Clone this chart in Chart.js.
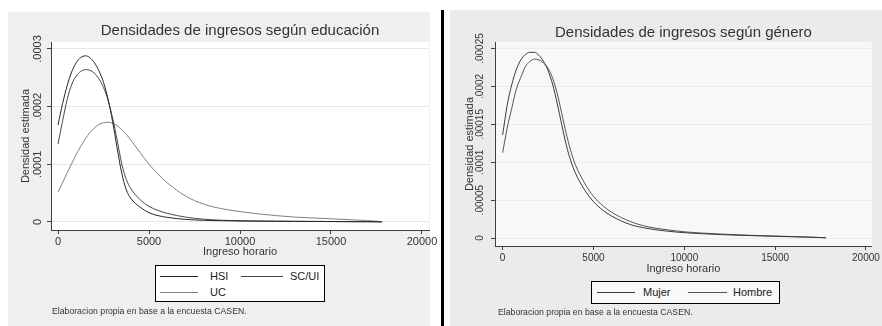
<!DOCTYPE html>
<html>
<head>
<meta charset="utf-8">
<script src="https://cdn.jsdelivr.net/npm/chart.js@4.4.1/dist/chart.umd.min.js"></script>
<style>
  body { margin: 0; width: 882px; height: 326px; background: #fff; position: relative; overflow: hidden;
         font-family: "Liberation Sans", Arial, sans-serif; }
  canvas { position: absolute; top: 0; }
  #eduChart { left: 0; }
  #genChart { left: 446px; }
  .divider { position: absolute; left: 441px; top: 10px; width: 3px; height: 316px; background: #000; }
  .legend { position: absolute; border: 1px solid #000; box-sizing: border-box; }
  .key { position: absolute; height: 1px; }
  .lab { position: absolute; font-size: 11px; color: #222; line-height: 13px; white-space: nowrap; }
  .note { position: absolute; font-size: 8.7px; color: #333; line-height: 10px; white-space: nowrap; }
</style>
</head>
<body>
<canvas id="eduChart" width="441" height="326"></canvas>
<div class="divider"></div>
<canvas id="genChart" width="436" height="326"></canvas>
<div id="legends"></div>
<div class="note" style="left:52px;top:306px">Elaboracion propia en base a la encuesta CASEN.</div>
<div class="note" style="left:498px;top:307px">Elaboracion propia en base a la encuesta CASEN.</div>

<script>
// income grid shared by all density curves
const incomeGrid = [0, 250, 500, 750, 1000, 1250, 1500, 1750, 2000, 2250, 2500, 2750, 3000, 3250, 3500, 3750,
  4000, 4500, 5000, 5500, 6000, 7000, 8000, 9000, 10000, 11000, 12000, 13000, 14000, 15000, 16000, 17000, 17800];

// left panel: by education
const eduHSI = [0.000168, 0.000205, 0.000236, 0.000260, 0.000276, 0.000285, 0.000288, 0.000285, 0.000276, 0.000262,
  0.000242, 0.000213, 0.000174, 0.000128, 0.000085, 0.000056, 0.000041, 0.000026, 0.000016, 0.000011, 0.000008,
  0.0000045, 0.000003, 0.0000022, 0.0000017, 0.0000014, 0.0000012, 0.000001, 0.0000009, 0.0000008, 0.0000006,
  0.0000004, 0.0000002];
const eduSCUI = [0.000135, 0.000175, 0.000212, 0.000238, 0.000253, 0.000261, 0.000264, 0.000263, 0.000258, 0.000248,
  0.000233, 0.000211, 0.000180, 0.000142, 0.000101, 0.000074, 0.000058, 0.000039, 0.000027, 0.000020, 0.000015,
  0.0000085, 0.0000048, 0.000003, 0.0000022, 0.0000017, 0.0000014, 0.0000012, 0.000001, 0.0000008, 0.0000006,
  0.0000005, 0.0000003];
const eduUC = [0.000052, 0.000068, 0.000085, 0.000101, 0.000117, 0.000131, 0.000144, 0.000155, 0.000163, 0.000169,
  0.000172, 0.000173, 0.000171, 0.000167, 0.000160, 0.000152, 0.000142, 0.000121, 0.000100, 0.000083, 0.000068,
  0.000045, 0.000031, 0.000023, 0.000018, 0.000014, 0.000011, 0.0000085, 0.000007, 0.0000055, 0.000004,
  0.0000025, 0.0000005];
const eduNames = ['HSI', 'SC/UI', 'UC'];
const eduYTicks = [0, 0.0001, 0.0002, 0.0003];
const eduYTickLabels = ['0', '.0001', '.0002', '.0003'];

// right panel: by gender
const genMujer = [0.000136, 0.000175, 0.000202, 0.000222, 0.000235, 0.000242, 0.000245, 0.000245, 0.000241, 0.000233,
  0.000221, 0.000203, 0.000178, 0.000150, 0.000123, 0.000102, 0.000086, 0.000064, 0.000048, 0.000037, 0.000029,
  0.000018, 0.0000125, 0.0000092, 0.000007, 0.0000056, 0.0000045, 0.0000036, 0.0000029, 0.0000022, 0.0000016,
  0.000001, 0.0000003];
const genHombre = [0.0001125, 0.000145, 0.000171, 0.000196, 0.000212, 0.000226, 0.000233, 0.000236, 0.000235, 0.000231,
  0.000224, 0.000211, 0.000191, 0.000165, 0.000138, 0.000115, 0.000097, 0.000073, 0.000055, 0.000043, 0.000034,
  0.000022, 0.0000148, 0.000011, 0.0000082, 0.0000065, 0.0000052, 0.0000042, 0.0000033, 0.0000026, 0.0000019,
  0.0000011, 0.0000003];
const genNames = ['Mujer', 'Hombre'];
const genYTicks = [0, 0.00005, 0.0001, 0.00015, 0.0002, 0.00025];
const genYTickLabels = ['0', '.00005', '.0001', '.00015', '.0002', '.00025'];

const xTicks = [0, 5000, 10000, 15000, 20000];
const xTickLabels = ['0', '5000', '10000', '15000', '20000'];

Chart.defaults.font.family = '"Liberation Sans", Arial, sans-serif';
Chart.defaults.color = '#333';

// paints the grey graph region and the plot region behind the curves
const panelBg = {
  id: 'panelBg',
  beforeDraw(chart, args, o) {
    const { ctx, chartArea: a } = chart;
    ctx.save();
    ctx.fillStyle = o.panel;
    ctx.fillRect(o.x, o.y, o.w, o.h);
    ctx.fillStyle = o.plot;
    ctx.fillRect(a.left, a.top, a.right - a.left, a.bottom - a.top);
    ctx.restore();
  }
};

const toPoints = (ys) => incomeGrid.map((x, i) => ({ x, y: ys[i] }));

function densityChart(canvas, cfg) {
  return new Chart(canvas, {
    type: 'line',
    data: {
      datasets: cfg.series.map((s, i) => ({
        label: cfg.names[i],
        data: toPoints(s),
        borderColor: cfg.colors[i],
        borderWidth: 1,
        pointRadius: 0,
        cubicInterpolationMode: 'monotone',
        fill: false,
      })),
    },
    options: {
      responsive: false,
      animation: false,
      layout: { padding: cfg.padding, autoPadding: false },
      plugins: {
        legend: { display: false },
        tooltip: { enabled: false },
        title: {
          display: true, text: cfg.title, fullSize: false, color: '#333',
          font: { size: 15, weight: 'normal' }, padding: cfg.titlePad,
        },
        panelBg: cfg.bg,
      },
      scales: {
        x: {
          type: 'linear', min: cfg.xMin, max: cfg.xMax,
          afterBuildTicks: s => { s.ticks = xTicks.map(v => ({ value: v })); },
          afterFit: s => { s.height = 40; },
          grid: { drawOnChartArea: false, tickLength: 4, tickColor: '#404040' },
          border: { color: '#404040' },
          ticks: {
            autoSkip: false, maxRotation: 0, padding: cfg.xTickPad, font: { size: cfg.tickSize }, color: '#333',
            callback: (v, i) => xTickLabels[i],
          },
          title: { display: true, text: 'Ingreso horario', font: { size: 11 }, color: '#333', padding: { top: 0, bottom: cfg.xTitlePad } },
        },
        y: {
          min: cfg.yMin, max: cfg.yMax,
          afterBuildTicks: s => { s.ticks = cfg.yTicks.map(v => ({ value: v })); },
          afterFit: s => { s.width = cfg.yWidth; },
          grid: { color: cfg.gridColor, tickColor: '#404040', tickLength: 4 },
          border: { color: '#404040' },
          ticks: {
            minRotation: 90, maxRotation: 90, crossAlign: 'center', padding: cfg.yTickPad,
            font: { size: cfg.tickSize }, color: '#333',
            callback: (v, i) => cfg.yLabels[i],
          },
          title: { display: true, text: 'Densidad estimada', font: { size: 11 }, color: '#333', padding: { top: cfg.yTitlePad, bottom: 0 } },
        },
      },
    },
    plugins: [panelBg],
  });
}

const eduColors = ['#262626', '#484848', '#808080'];
const genColors = ['#3a3a3a', '#555555'];

densityChart(document.getElementById('eduChart'), {
  series: [eduHSI, eduSCUI, eduUC], names: eduNames, colors: eduColors,
  title: 'Densidades de ingresos según educación',
  padding: { left: 8, right: 12, top: 12, bottom: 56 },
  titlePad: { top: 10, bottom: 2 },
  xMin: -385, xMax: 20385, yMin: -0.0000139, yMax: 0.000312,
  yTicks: eduYTicks, yLabels: eduYTickLabels,
  yWidth: 43, tickSize: 11, xTickPad: 1.4, xTitlePad: 11.9, yTickPad: -4.75, yTitlePad: 11.4,
  gridColor: '#e8e8e8',
  bg: { panel: '#efefef', plot: '#ffffff', x: 8, y: 12, w: 422, h: 314 },
});

densityChart(document.getElementById('genChart'), {
  series: [genMujer, genHombre], names: genNames, colors: genColors,
  title: 'Densidades de ingresos según género',
  padding: { left: 4, right: 7, top: 10, bottom: 40 },
  titlePad: { top: 13.5, bottom: 0.5 },
  xMin: -420, xMax: 20327, yMin: -0.00001055, yMax: 0.0002586,
  yTicks: genYTicks, yLabels: genYTickLabels,
  yWidth: 45, tickSize: 10, xTickPad: 2, xTitlePad: 10.9, yTickPad: -4.3, yTitlePad: 12.9,
  gridColor: '#ececec',
  bg: { panel: '#ebebeb', plot: '#f8f8f8', x: 4, y: 10, w: 432, h: 316 },
});

// Stata-style legend boxes
function addLegend(box, items, bg) {
  const host = document.getElementById('legends');
  const b = document.createElement('div');
  b.className = 'legend';
  Object.assign(b.style, { left: box[0] + 'px', top: box[1] + 'px', width: box[2] + 'px', height: box[3] + 'px', background: bg });
  host.appendChild(b);
  items.forEach(it => {
    const k = document.createElement('div');
    k.className = 'key';
    Object.assign(k.style, { left: it.kx + 'px', top: it.y + 'px', width: it.kw + 'px', background: it.color });
    host.appendChild(k);
    const t = document.createElement('div');
    t.className = 'lab';
    t.textContent = it.label;
    Object.assign(t.style, { left: it.tx + 'px', top: (it.y - 6.5) + 'px' });
    host.appendChild(t);
  });
}

addLegend([155, 265, 170, 37], [
  { label: eduNames[0], color: eduColors[0], kx: 160, kw: 38, tx: 210, y: 276 },
  { label: eduNames[1], color: eduColors[1], kx: 241, kw: 42, tx: 290, y: 276 },
  { label: eduNames[2], color: eduColors[2], kx: 160, kw: 38, tx: 210, y: 292 },
], '#fff');

addLegend([591, 281, 189, 23], [
  { label: genNames[0], color: genColors[0], kx: 597, kw: 38, tx: 643, y: 292 },
  { label: genNames[1], color: genColors[1], kx: 688, kw: 39, tx: 733, y: 292 },
], '#f8f8f8');
</script>
</body>
</html>
